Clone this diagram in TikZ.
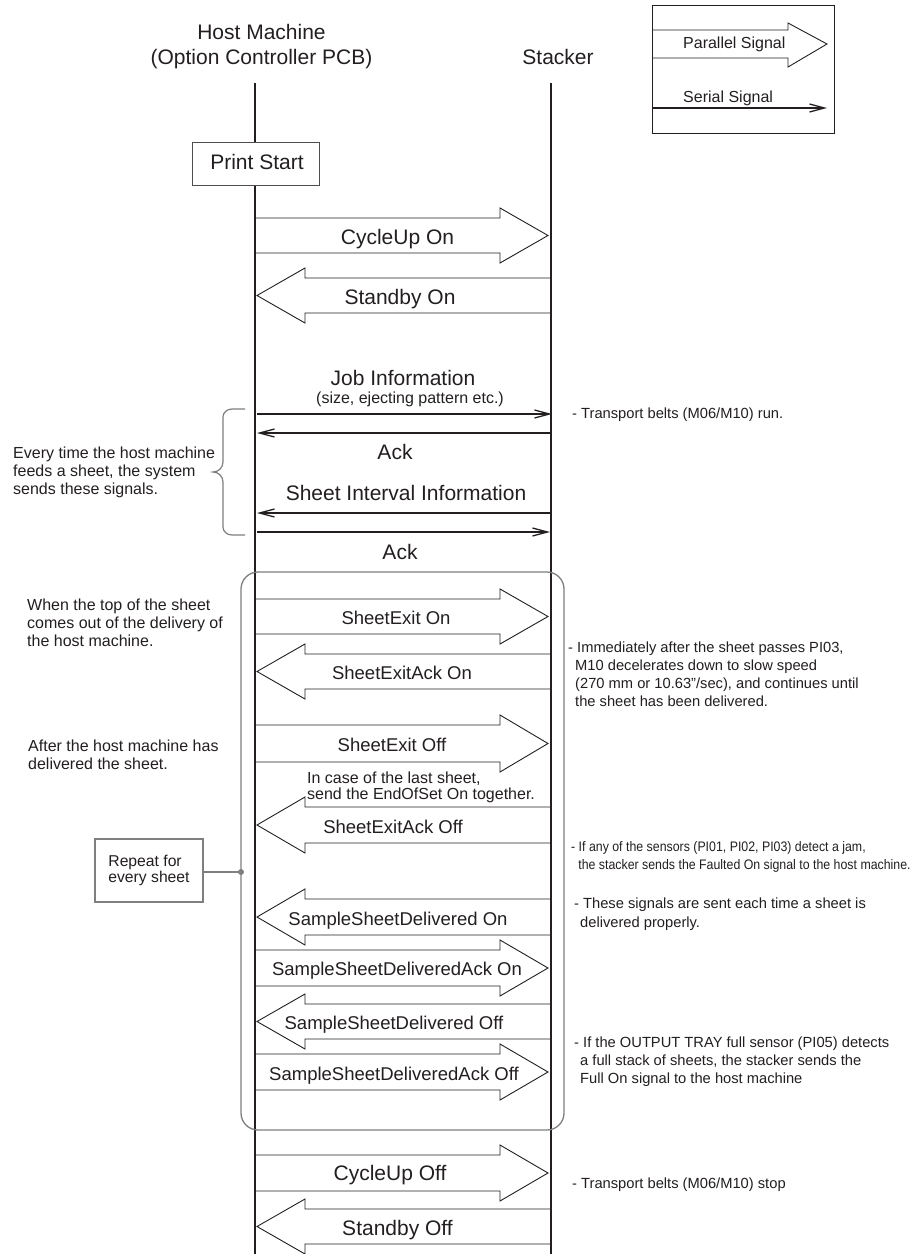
\documentclass[tikz,border=0pt]{standalone}
\usepackage{fontspec}
\usepackage{graphicx}
\setmainfont{Liberation Sans}
\usetikzlibrary{arrows.meta}

\definecolor{ink}{HTML}{231F20}
\definecolor{frame}{HTML}{7F7F7F}

\newcommand\fs[2]{\fontsize{#1}{#2}\selectfont}
% x positions of the two lifelines
\newcommand\HX{255}
\newcommand\SX{551}

\tikzset{
  lifeline/.style={draw=ink, line width=1.8pt},
  block/.style={draw=ink, line width=0.9pt, line join=miter},
  serial/.style={draw=ink, line width=1.3pt, -{Straight Barb[length=15pt,width=8pt]}},
  biglbl/.style={anchor=base, inner sep=0pt, text=ink, font=\fs{21}{25}},
  seqlbl/.style={anchor=base, inner sep=0pt, text=ink, font=\fs{18.5}{22}},
  smalllbl/.style={anchor=base, inner sep=0pt, text=ink, font=\fs{16}{18}},
  lnote/.style={anchor=base west, inner sep=0pt, text=ink, font=\fs{16}{18}},
  rnote/.style={anchor=base west, inner sep=0pt, text=ink, font=\fs{14.7}{18.3}},
  graybox/.style={draw=frame, line width=1.3pt},
}

% parallel signal, host -> stacker: style, name, shaft top, shaft bottom, label x, label baseline, text
\newcommand\sigR[7]{%
  \draw[block] (\HX,#3) -- (500,#3) -- (500,#3-10) -- (548,{(#3+#4)/2})
     -- (500,#4+10) -- (500,#4) -- (\HX,#4);
  \node[#1] (#2) at (#5,#6) {#7};
}
% parallel signal, stacker -> host
\newcommand\sigL[7]{%
  \draw[block] (\SX,#3) -- (305,#3) -- (305,#3-10) -- (257,{(#3+#4)/2})
     -- (305,#4+10) -- (305,#4) -- (\SX,#4);
  \node[#1] (#2) at (#5,#6) {#7};
}
\newcommand\lines[1]{\begin{tabular}[t]{@{}l@{}}#1\end{tabular}}

\begin{document}
\begin{tikzpicture}[x=1pt, y=-1pt]
\useasboundingbox (0,0) rectangle (916,1254);
\fill[white] (0,0) rectangle (916,1254);

% headers
\node[biglbl] (hostA) at (261.5,39) {Host Machine};
\node[biglbl] (hostB) at (261.5,64) {(Option Controller PCB)};
\node[biglbl] (stk) at (558,64) {Stacker};

% lifelines
\coordinate (hTop) at (\HX,83);
\coordinate (hBot) at (\HX,1254);
\coordinate (sTop) at (\SX,83);
\coordinate (sBot) at (\SX,1254);
\draw[lifeline] (hTop) -- (hBot);
\draw[lifeline] (sTop) -- (sBot);

% legend
\draw[draw=ink, line width=1pt] (652,5) rectangle (834,133);
\draw[block] (652,30) -- (788,30) -- (788,23) -- (827,44) -- (788,67) -- (788,58) -- (652,58);
\node[anchor=base west, inner sep=0pt, text=ink, font=\fs{16}{18}] (legP) at (683,48.5) {Parallel Signal};
\coordinate (legA) at (652,108);
\coordinate (legB) at (827,108);
\draw[serial] (legA) -- (legB);
\node[anchor=base west, inner sep=0pt, text=ink, font=\fs{16}{18}] (legS) at (683,102) {Serial Signal};

% print start
\node[draw=ink!80, line width=1pt, fill=white, minimum width=127pt, minimum height=43pt, inner sep=0pt] (ps) at (255.5,163.5) {};
\node[biglbl] (psl) at (257,169) {Print Start};

% start of job
\sigR{biglbl}{cu1}{218}{253}{397.5}{244}{CycleUp On}
\sigL{biglbl}{sb1}{278}{313}{400}{304}{Standby On}

% per-sheet serial exchange
\node[biglbl] (ji) at (403,385) {Job Information};
\node[smalllbl] (jis) at (410,403) {(size, ejecting pattern etc.)};
\coordinate (j1) at (257,414);  \coordinate (j2) at (552,414);
\draw[serial] (j1) -- (j2);
\coordinate (a1) at (\SX,433);  \coordinate (a2) at (257,433);
\draw[serial] (a1) -- (a2);
\node[biglbl] (ack1) at (395,459) {Ack};
\node[biglbl] (sii) at (406,500.5) {Sheet Interval Information};
\coordinate (i1) at (\SX,513);  \coordinate (i2) at (257,513);
\draw[serial] (i1) -- (i2);
\coordinate (k1) at (257,532);  \coordinate (k2) at (550,532);
\draw[serial] (k1) -- (k2);
\node[biglbl] (ack2) at (400,559) {Ack};

% brace and its note
\draw[draw=frame, line width=1.2pt]
  (245,409) -- (232,409) to[out=180,in=90] (223,417) -- (223,462)
  to[out=-90,in=0] (213,472) to[out=0,in=90] (223,482) -- (223,527)
  to[out=-90,in=180] (232,535) -- (245,535);
\node[lnote] (every) at (13,458) {\lines{Every time the host machine\\feeds a sheet, the system\\sends these signals.}};
\node[rnote] (nrun) at (572,418) {- Transport belts (M06/M10) run.};

% repeated loop
\draw[graybox, rounded corners=17pt] (241,572) rectangle (564,1130);
\coordinate (dot) at (241,872);
\node[graybox, minimum width=108pt, minimum height=63pt, inner sep=0pt,
      font=\fs{15.7}{16}, text=ink, align=left] (rep) at (149,870.5) {Repeat for\\every sheet};
\draw[draw=frame, line width=1.3pt] (rep.east |- dot) -- (dot);
\fill[frame] (dot) circle (3pt);

\node[lnote] (when) at (27,610) {\lines{When the top of the sheet\\comes out of the delivery of\\the host machine.}};
\node[lnote] (after) at (28,751) {\lines{After the host machine has\\delivered the sheet.}};

\sigR{seqlbl}{se1}{599}{634}{396}{624}{SheetExit On}
\sigL{seqlbl}{sa1}{654}{689}{402}{679}{SheetExitAck On}
\sigR{seqlbl}{se0}{725}{762}{392}{751}{SheetExit Off}
\node[anchor=base west, inner sep=0pt, text=ink, font=\fs{16}{16}] (last) at (307,783) {\lines{In case of the last sheet,\\send the EndOfSet On together.}};
\sigL{seqlbl}{sa0}{807}{843}{393}{833}{SheetExitAck Off}
\sigL{seqlbl}{sd1}{899}{935}{398}{925}{SampleSheetDelivered On}
\sigR{seqlbl}{sk1}{950}{986}{397}{975.5}{SampleSheetDeliveredAck On}
\sigL{seqlbl}{sd0}{1004}{1039}{394}{1029}{SampleSheetDelivered Off}
\sigR{seqlbl}{sk0}{1054}{1090}{394}{1080}{SampleSheetDeliveredAck Off}

\node[rnote] (nslow) at (568,652) {\lines{- Immediately after the sheet passes PI03,\\\hspace{7pt}M10 decelerates down to slow speed\\\hspace{7pt}(270 mm or 10.63"/sec), and continues until\\\hspace{7pt}the sheet has been delivered.}};
\node[rnote, font=\fs{13.8}{18}] (njam) at (571,851) {\scalebox{0.895}[1]{\lines{- If any of the sensors (PI01, PI02, PI03) detect a jam,\\\hspace{8pt}the stacker sends the Faulted On signal to the host machine.}}};
\node[rnote, font=\fs{14.7}{19}] (ngood) at (574,908) {\lines{- These signals are sent each time a sheet is\\\hspace{6pt}delivered properly.}};
\node[rnote] (nfull) at (574,1047) {\lines{- If the OUTPUT TRAY full sensor (PI05) detects\\\hspace{6pt}a full stack of sheets, the stacker sends the\\\hspace{6pt}Full On signal to the host machine}};

% end of job
\sigR{biglbl}{cu0}{1155}{1191}{390}{1180.5}{CycleUp Off}
\sigL{biglbl}{sb0}{1209}{1244}{397.5}{1235}{Standby Off}
\node[rnote] (nstop) at (572,1188) {- Transport belts (M06/M10) stop};
\end{tikzpicture}
\end{document}
